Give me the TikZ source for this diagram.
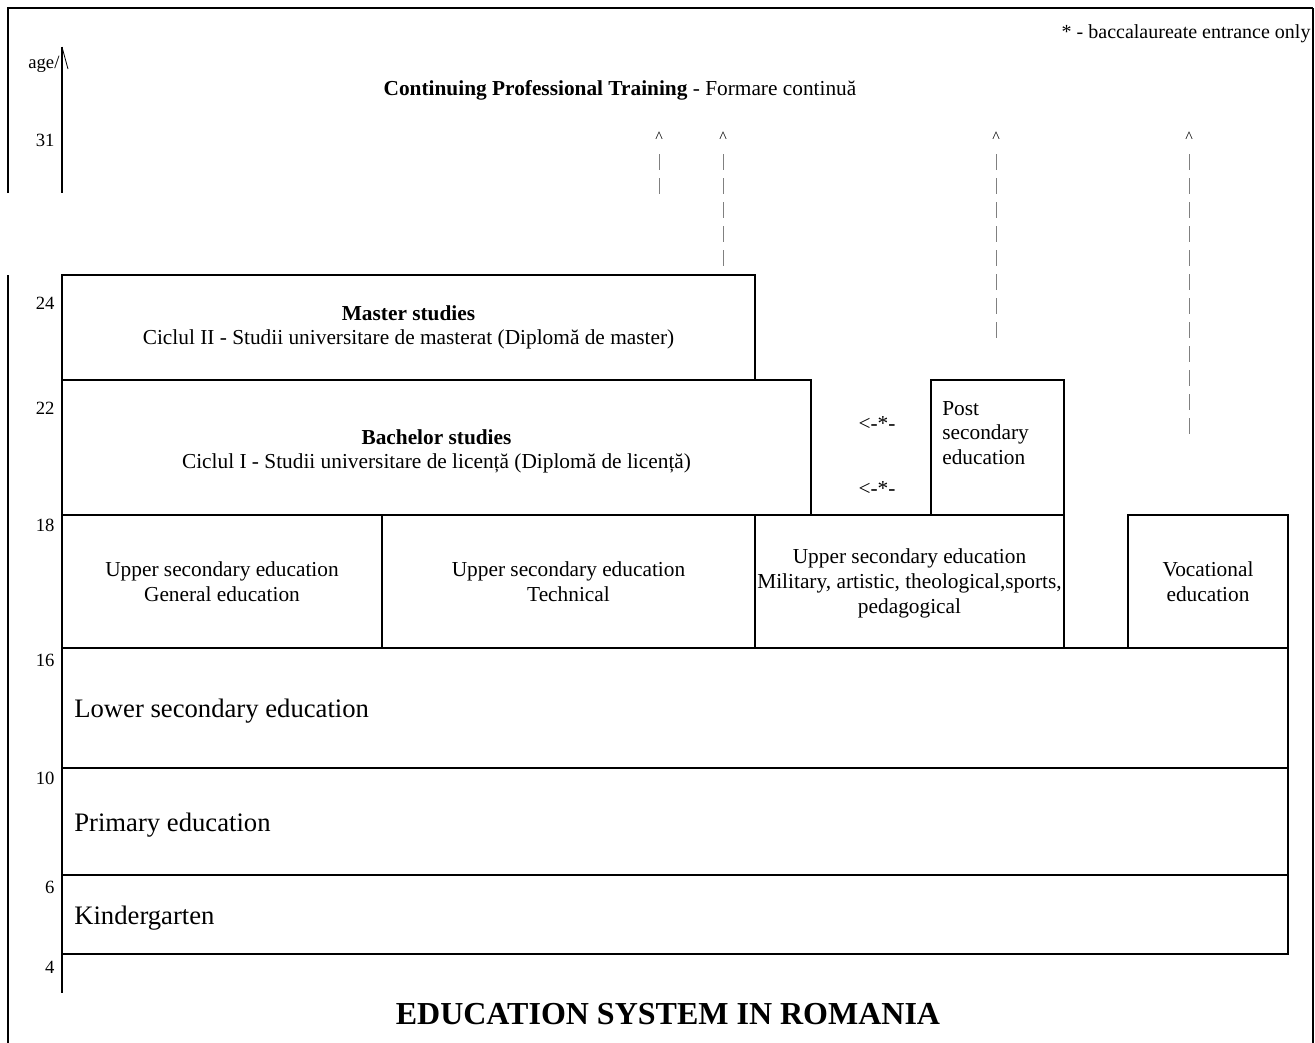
\documentclass[tikz,border=0pt]{standalone}
\usepackage{fontspec}
\setmainfont{Liberation Serif}
\usetikzlibrary{positioning,fit}

\begin{document}
\begin{tikzpicture}[x=0.75pt, y=-0.75pt, thick, font=\fontsize{16}{18.5}\selectfont,
    stage/.style={draw, line width=1.8pt, inner sep=0pt},
    inside/.style={align=center, inner sep=0pt},
    wide/.style={inner sep=0pt, anchor=west, font=\fontsize{20}{24}\selectfont},
    agenum/.style={anchor=east, inner sep=0pt, font=\fontsize{14}{16}\selectfont},
    caret/.style={inner sep=0pt, font=\fontsize{12}{14}\selectfont},
    link/.style={gray, line width=0.6pt, dash pattern=on 12pt off 6pt}]
    \useasboundingbox (0,0) rectangle (1315,1043);
    % frame
    \draw[line width=1.8pt] (8,193) -- (8,8) -- (1313,8);
    \draw[line width=1.2pt] (1313,8) -- (1313,1043);
    \draw[line width=1.8pt] (8,275) -- (8,1043);
    % age axis
    \coordinate (axtop) at (62,47);
    \coordinate (axcut) at (62,193);
    \coordinate (axback) at (62,275);
    \coordinate (axend) at (62,993);
    \draw[line width=1.8pt] (axtop) -- (axcut);
    \draw[line width=1.8pt] (axback) -- (axend);
    \draw[line width=0.6pt] (axtop) -- ++(6,22);
    \node[agenum, anchor=base east] (age) at (60,68) {age/};
    \foreach \a/\y in {31/140, 24/303, 22/408, 18/525, 16/660, 10/778, 6/887, 4/967}
        \node[agenum] (n\a) at (55,\y) {\a};
    \node[anchor=east, inner sep=0pt, font=\fontsize{15}{18}\selectfont] (note) at (1311,34) {* - baccalaureate entrance only};
    \node (cpt) at (620,90) {\textbf{Continuing Professional Training} - Formare continuă};
    % stages
    \node[stage, fit={(62,275) (755,380)}] (master) {};
    \node[inside] (mastertxt) at (master.center) {\textbf{Master studies}\\Ciclul II - Studii universitare de masterat (Diplomă de master)};
    \node[stage, fit={(62,380) (811,515)}] (bachelor) {};
    \node[inside] (bachelortxt) at ([yshift=-3pt]bachelor.center) {\textbf{Bachelor studies}\\Ciclul I - Studii universitare de licență (Diplomă de licență)};
    \node[stage, fit={(931,380) (1064,515)}] (post) {};
    \node[anchor=north west, align=left, inner sep=0pt] (posttxt) at ([xshift=9pt, yshift=-16.5pt]post.north west) {Post\\secondary\\education};
    \node (starup) at (877,424) {<-*-};
    \node (stardown) at (877,489) {<-*-};
    \node[stage, fit={(62,515) (382,648)}] (upgen) {};
    \node[inside] (upgentxt) at (upgen.center) {Upper secondary education\\General education};
    \node[stage, fit={(382,515) (755,648)}] (uptech) {};
    \node[inside] (uptechtxt) at (uptech.center) {Upper secondary education\\Technical};
    \node[stage, fit={(755,515) (1064,648)}] (upmil) {};
    \node[inside] (upmiltxt) at ([yshift=-1.5pt]upmil.center) {Upper secondary education\\Military, artistic, theological,sports,\\pedagogical};
    \node[stage, fit={(1128,515) (1288,648)}] (voc) {};
    \node[inside] (voctxt) at (voc.center) {Vocational\\education};
    \node[stage, fit={(62,648) (1288,768)}] (lower) {};
    \node[wide, right=9.75pt of lower.west, yshift=-2.5pt] (lowertxt) {Lower secondary education};
    \node[stage, fit={(62,768) (1288,875)}] (primary) {};
    \node[wide, right=9.75pt of primary.west, yshift=-2.5pt] (primarytxt) {Primary education};
    \node[stage, fit={(62,875) (1288,954)}] (kinder) {};
    \node[wide, right=9.75pt of kinder.west, yshift=-2.5pt] (kindertxt) {Kindergarten};
    % continuing training
    \foreach \i/\x in {1/659, 2/723, 3/996, 4/1189}
        \node[caret] (car\i) at (\x,137) {\textasciicircum};
    \coordinate (end1) at (659,197);
    \coordinate (end3) at (996,345);
    \coordinate (end4) at (1189,442);
    \draw[link] ([yshift=-13pt]car1.center) -- (end1);
    \draw[link] ([yshift=-13pt]car2.center) -- (car2 |- master.north);
    \draw[link] ([yshift=-13pt]car3.center) -- (end3);
    \draw[link] ([yshift=-13pt]car4.center) -- (end4);
    \node[font=\fontsize{24}{28}\selectfont\bfseries] (title) at (668,1014) {EDUCATION SYSTEM IN ROMANIA};
\end{tikzpicture}
\end{document}
